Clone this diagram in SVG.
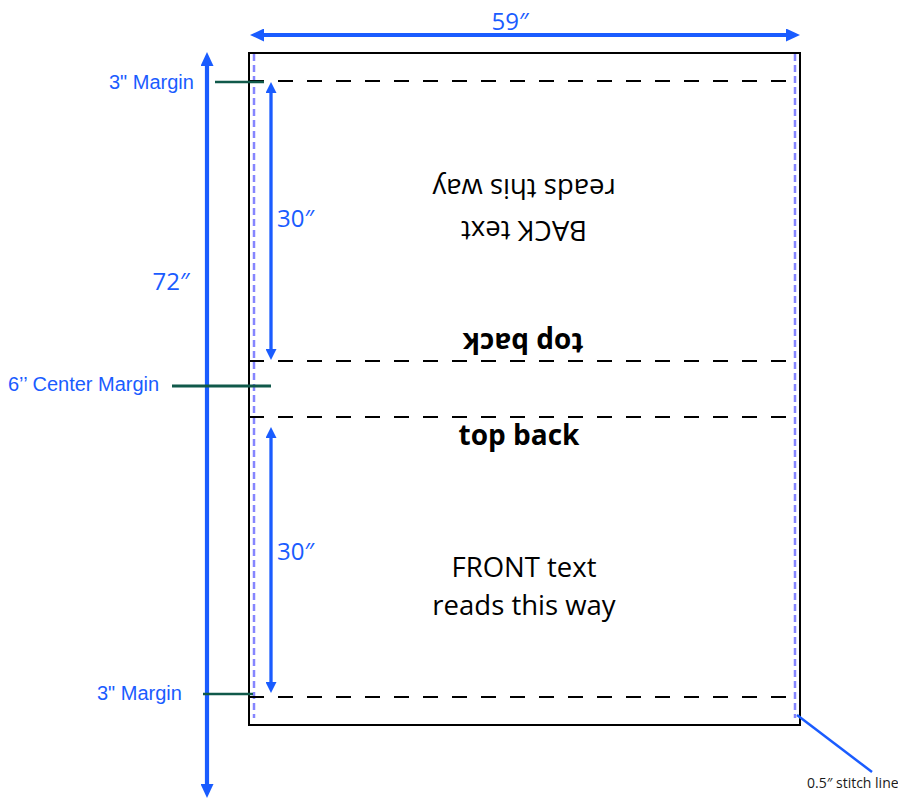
<svg xmlns="http://www.w3.org/2000/svg" width="898" height="799" viewBox="0 0 898 799">
  <style>
    .sheet { fill: #ffffff; stroke: #000000; stroke-width: 2; }
    .fold { stroke: #000000; stroke-width: 2; stroke-dasharray: 15 14; fill: none; }
    .stitch { stroke: #8585ff; stroke-width: 2.5; stroke-dasharray: 7 4; fill: none; }
    .dimBig { stroke: #1a5cff; stroke-width: 4.2; fill: none; }
    .dimSmall { stroke: #1a5cff; stroke-width: 3.3; fill: none; }
    .lead { stroke: #10594a; stroke-width: 2.5; fill: none; }
    .pointer { stroke: #1a5cff; stroke-width: 2.5; fill: none; }
    .dimText { font-family: "Open Sans", "Liberation Sans", sans-serif; font-size: 24px; fill: #1a5cff; }
    .marginText { font-family: "Liberation Sans", Arial, sans-serif; font-size: 20px; fill: #1a5cff; }
    .body { font-family: "Open Sans", "Liberation Sans", sans-serif; font-size: 27.5px; fill: #000000; text-anchor: middle; }
    .bold { font-family: "Open Sans", "Liberation Sans", sans-serif; font-size: 28px; font-weight: bold; fill: #000000; text-anchor: middle; }
    .note { font-family: "Open Sans", "Liberation Sans", sans-serif; font-size: 14px; fill: #1a1a1a; }
  </style>
  <defs>
    <marker id="headBig" markerUnits="userSpaceOnUse" markerWidth="14" markerHeight="13" refX="0" refY="6.5" orient="auto-start-reverse" viewBox="0 0 14 13">
      <path d="M0,0 L14,6.5 L0,13 Z" fill="#1a5cff"/>
    </marker>
    <marker id="headSmall" markerUnits="userSpaceOnUse" markerWidth="11" markerHeight="11" refX="0" refY="5.5" orient="auto-start-reverse" viewBox="0 0 11 11">
      <path d="M0,0 L11,5.5 L0,11 Z" fill="#1a5cff"/>
    </marker>
  </defs>

  <g id="sheet-node">
    <rect class="sheet" x="249" y="53" width="551" height="672"/>
  </g>

  <g id="stitch-lines">
    <line class="stitch" x1="254" y1="54" x2="254" y2="718"/>
    <line class="stitch" x1="795" y1="54" x2="795" y2="718"/>
  </g>

  <g id="fold-lines">
    <line class="fold" x1="249" y1="81" x2="786" y2="81"/>
    <line class="fold" x1="249" y1="361" x2="786" y2="361"/>
    <line class="fold" x1="249" y1="417" x2="786" y2="417"/>
    <line class="fold" x1="249" y1="697" x2="786" y2="697"/>
  </g>

  <g id="connectors">
    <line class="dimBig" x1="264" y1="35" x2="786" y2="35" marker-start="url(#headBig)" marker-end="url(#headBig)"/>
    <line class="dimBig" x1="207" y1="66" x2="207" y2="784" marker-start="url(#headBig)" marker-end="url(#headBig)"/>
    <line class="dimSmall" x1="271" y1="93" x2="271" y2="349" marker-start="url(#headSmall)" marker-end="url(#headSmall)"/>
    <line class="dimSmall" x1="271" y1="438" x2="271" y2="682" marker-start="url(#headSmall)" marker-end="url(#headSmall)"/>
    <line class="lead" x1="215" y1="82" x2="264" y2="82"/>
    <line class="lead" x1="172" y1="386" x2="271" y2="386" style="stroke-width:3"/>
    <line class="lead" x1="203" y1="694" x2="253" y2="694"/>
    <line class="pointer" x1="797" y1="715" x2="872" y2="772"/>
  </g>

  <g id="dimension-labels">
    <text class="dimText" x="510" y="30" text-anchor="middle">59″</text>
    <text class="dimText" x="171" y="290" text-anchor="middle">72″</text>
    <text class="dimText" x="277" y="227">30″</text>
    <text class="dimText" x="277" y="560">30″</text>
  </g>

  <g id="margin-labels">
    <text class="marginText" x="109" y="89">3" Margin</text>
    <text class="marginText" x="8" y="391">6’’ Center Margin</text>
    <text class="marginText" x="97" y="700">3" Margin</text>
  </g>

  <g id="back-panel">
    <text class="body" transform="translate(524 179) rotate(180)">reads this way</text>
    <text class="body" transform="translate(524 221) rotate(180)">BACK text</text>
    <text class="bold" transform="translate(523 333) rotate(180)">top back</text>
  </g>

  <g id="front-panel">
    <text class="bold" x="519" y="445">top back</text>
    <text class="body" x="524" y="577">FRONT text</text>
    <text class="body" x="524" y="615">reads this way</text>
  </g>

  <g id="stitch-note">
    <text class="note" x="807" y="788">0.5″ stitch line</text>
  </g>
</svg>
